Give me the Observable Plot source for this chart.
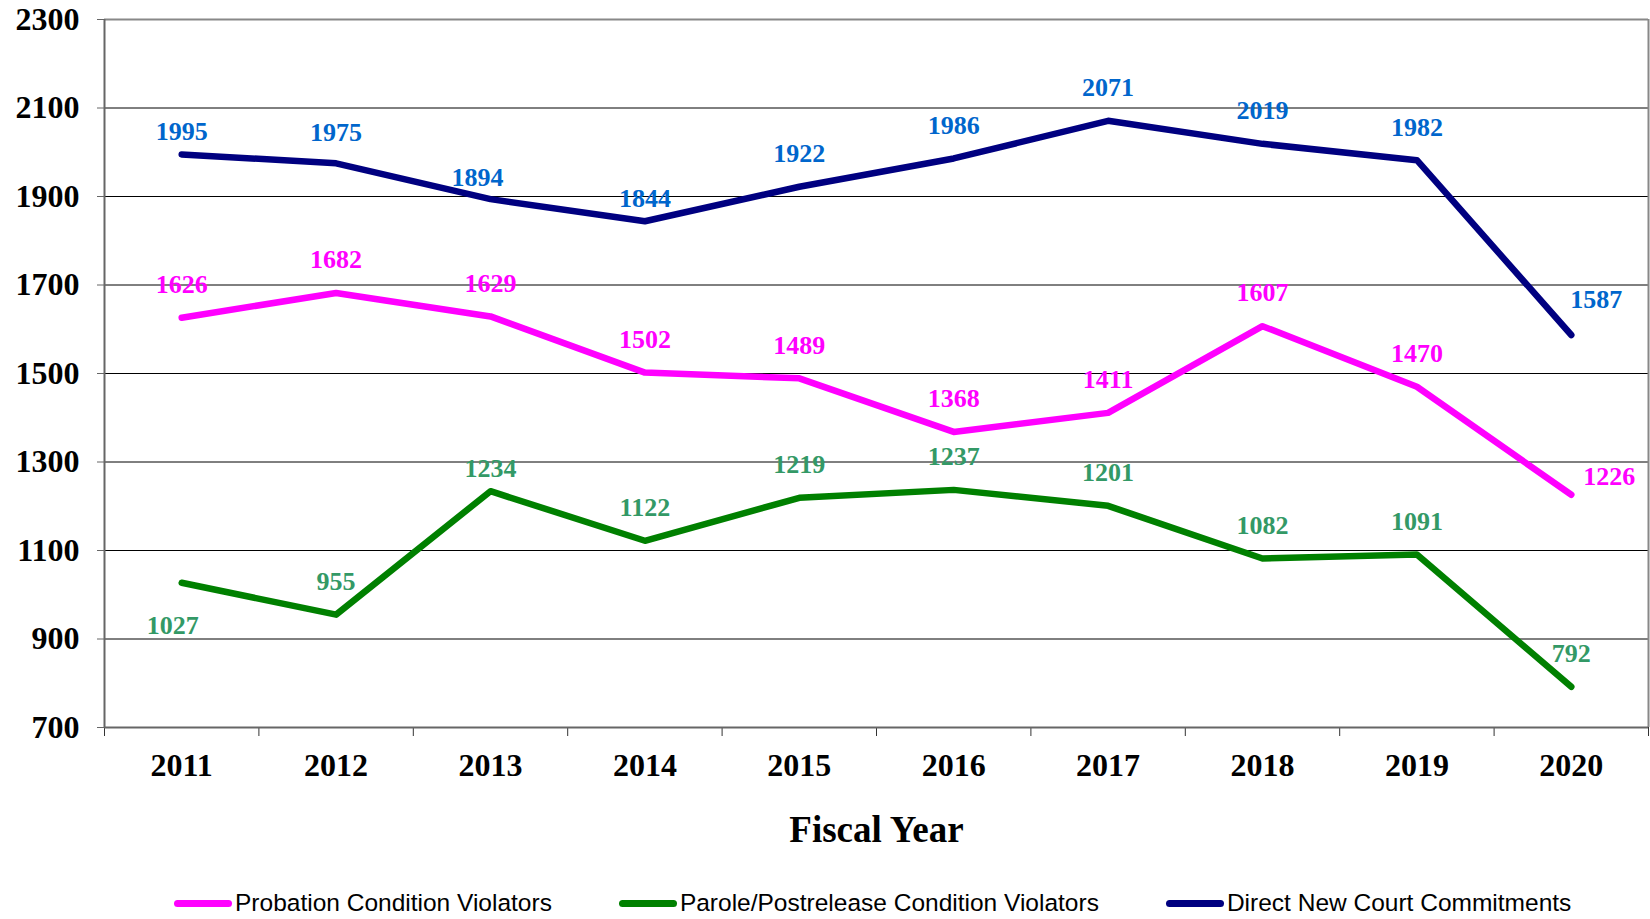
<!DOCTYPE html>
<html><head><meta charset="utf-8">
<script src="https://cdn.jsdelivr.net/npm/d3@7"></script>
<script src="https://cdn.jsdelivr.net/npm/@observablehq/plot@0.6"></script>
<style>
body{margin:0;background:#fff;}
#legend{display:flex;align-items:center;height:32px;padding-top:17px;padding-left:174px;gap:67px;font-family:"Liberation Sans",Arial,sans-serif;font-size:24.5px;color:#000;}
.item{display:flex;align-items:center;gap:3px;white-space:nowrap;}
.sw{display:inline-block;width:58px;height:7px;border-radius:4px;}
</style></head><body><div id="chart"></div><div id="legend"></div>
<script>
const years = [2011, 2012, 2013, 2014, 2015, 2016, 2017, 2018, 2019, 2020];
const probation = [1626, 1682, 1629, 1502, 1489, 1368, 1411, 1607, 1470, 1226];
const parole = [1027, 955, 1234, 1122, 1219, 1237, 1201, 1082, 1091, 792];
const direct = [1995, 1975, 1894, 1844, 1922, 1986, 2071, 2019, 1982, 1587];
const seriesNames = ["Probation Condition Violators", "Parole/Postrelease Condition Violators", "Direct New Court Commitments"];
const yTicks = [700, 900, 1100, 1300, 1500, 1700, 1900, 2100, 2300];

// styling
const lineColors = ["#FF00FF", "#008000", "#000080"];
const labelColors = ["#FF00FF", "#339966", "#0066CC"];
// label nudges (pixels) relative to the point: default above
const nudges = [
  {2020: [38, -18]},
  {2011: [-9, 43], 2013: [0, -23]},
  {2011: [0, -23], 2012: [0, -31], 2013: [-13, -21], 2014: [0, -23], 2020: [25, -35]}
];

const seriesValues = [probation, parole, direct];
const rows = [];
seriesValues.forEach((vals, s) => {
  vals.forEach((v, i) => {
    const n = nudges[s][years[i]] || [0, -33];
    rows.push({year: years[i], value: v, s, name: seriesNames[s], dx: n[0], dy: n[1]});
  });
});

const bounds = [years[0] - 0.5, ...years.map(y => y + 0.5)];
const labelGroups = d3.groups(rows, r => r.dx + "," + r.dy);

const font = "'Liberation Serif', 'Times New Roman', serif";

const chart = Plot.plot({
  width: 1650,
  height: 870,
  marginTop: 19,
  marginLeft: 104,
  marginRight: 2,
  marginBottom: 143,
  x: {domain: [bounds[0], bounds[bounds.length - 1]]},
  y: {domain: [yTicks[0], yTicks[yTicks.length - 1]]},
  color: {type: "identity"},
  style: {fontFamily: font, background: "white"},
  marks: [
    Plot.ruleY(yTicks.slice(1, -1), {stroke: "#000", strokeWidth: 1}),
    Plot.ruleY([yTicks[yTicks.length - 1]], {stroke: "#888", strokeWidth: 2}),
    Plot.ruleX([bounds[bounds.length - 1]], {stroke: "#888", strokeWidth: 2}),
    Plot.axisY({ticks: yTicks, tickSize: 7, tickPadding: 18, stroke: "#666", fill: "#000", fontSize: 32, fontWeight: "bold", fontFamily: font, tickFormat: d => String(d), label: null}),
    Plot.axisX({ticks: bounds, tickSize: 9, tickFormat: () => "", stroke: "#333", label: null}),
    Plot.axisX({ticks: years, tickSize: 0, tickPadding: 26, fill: "#000", fontSize: 32, fontWeight: "bold", fontFamily: font, tickFormat: d => String(d), label: null}),
    Plot.ruleX([bounds[0]], {stroke: "#666", strokeWidth: 2}),
    Plot.ruleY([yTicks[0]], {stroke: "#666", strokeWidth: 2}),
    ...seriesValues.map((vals, s) => Plot.lineY(rows.filter(r => r.s === s), {x: "year", y: "value", stroke: lineColors[s], strokeWidth: 6.5, strokeLinecap: "round", strokeLinejoin: "round"})),
    ...labelGroups.map(([k, g]) => Plot.text(g, {x: "year", y: "value", text: d => String(d.value), fill: d => labelColors[d.s], dx: g[0].dx, dy: g[0].dy, fontSize: 26, fontWeight: "bold", fontFamily: font})),
    Plot.text(["Fiscal Year"], {frameAnchor: "bottom", dy: 114, fontSize: 37, fontWeight: "bold", fontFamily: font, fill: "#000"})
  ]
});
document.getElementById("chart").appendChild(chart);

const legend = document.getElementById("legend");
seriesNames.forEach((n, i) => {
  const it = document.createElement("div");
  it.className = "item";
  it.innerHTML = `<span class="sw" style="background:${lineColors[i]}"></span><span>${n}</span>`;
  legend.appendChild(it);
});
</script></body></html>
